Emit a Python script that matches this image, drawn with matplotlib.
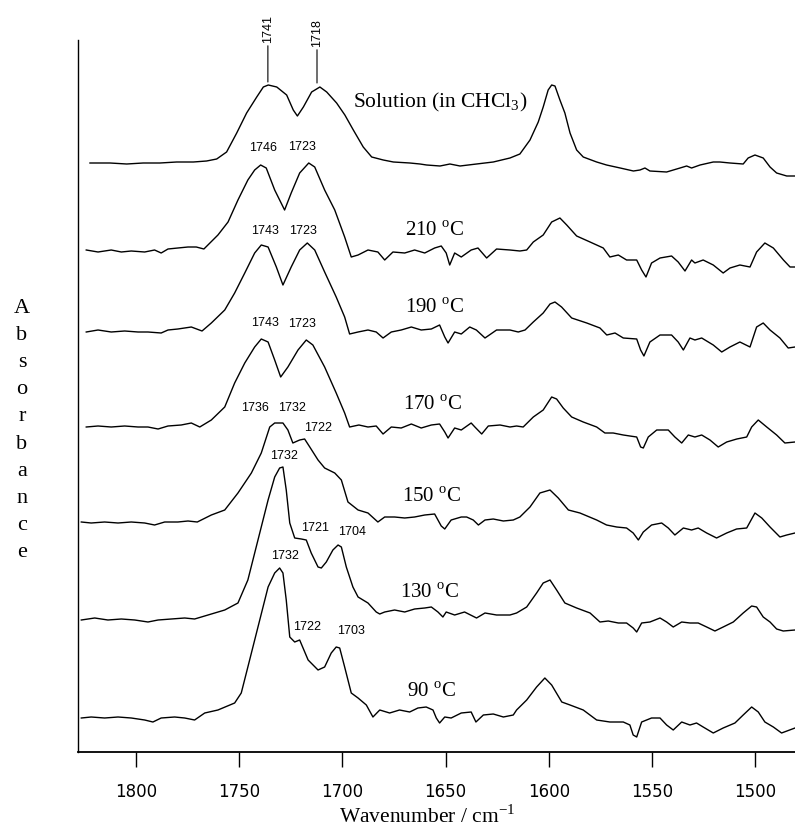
import matplotlib.pyplot as plt

plt.rcParams['font.family'] = ['Liberation Serif', 'DejaVu Serif']
plt.rcParams['mathtext.fontset'] = 'custom'
plt.rcParams['mathtext.rm'] = 'Liberation Serif'

# spectra: wavenumber (cm-1) and absorbance above each trace's own baseline
sol_wn = [1822.3, 1812.6, 1804.5, 1796.5, 1788.4, 1780.3, 1772.2, 1765.8, 1760.9, 1756.1,
          1751.2, 1746.4, 1741.5, 1738.3, 1735.9, 1731.8, 1727.0, 1723.8, 1721.8, 1718.9,
          1714.9, 1710.9, 1707.6, 1702.8, 1698.8, 1694.7, 1689.9, 1685.8, 1680.2, 1675.3,
          1667.3, 1662.4, 1659.2, 1652.7, 1647.9, 1643.0, 1635.0, 1626.9, 1618.8, 1614.0,
          1609.1, 1605.1, 1602.7, 1600.3, 1598.6, 1597.0, 1594.6, 1592.2, 1589.7, 1586.5,
          1583.3, 1576.8, 1572.0, 1565.4, 1559.0, 1555.8, 1553.4, 1551.0, 1542.9, 1536.4,
          1533.2, 1530.8, 1526.7, 1520.3, 1517.1, 1512.2, 1505.8, 1503.4, 1500.1, 1496.1,
          1492.8, 1489.6, 1484.7, 1480.7]
sol_abs = [0, 0, -0.01, 0, 0, 0.01, 0.01, 0.02, 0.04, 0.11,
           0.30, 0.50, 0.66, 0.76, 0.78, 0.76, 0.68, 0.53, 0.47, 0.56,
           0.71, 0.76, 0.71, 0.60, 0.48, 0.33, 0.16, 0.06, 0.03, 0.01,
           0, -0.01, -0.02, -0.03, -0.01, -0.03, -0.01, 0.01, 0.05, 0.09,
           0.23, 0.41, 0.56, 0.73, 0.78, 0.77, 0.63, 0.50, 0.30, 0.13,
           0.06, 0.01, -0.02, -0.05, -0.08, -0.07, -0.05, -0.08, -0.09, -0.05,
           -0.03, -0.05, -0.02, 0.01, 0.01, 0, -0.01, 0.05, 0.08, 0.05,
           -0.04, -0.10, -0.13, -0.13]

t210_wn = [1824.1, 1818.4, 1812.0, 1807.1, 1802.3, 1795.8, 1791.0, 1787.8, 1784.5, 1779.7,
           1774.8, 1770.8, 1767.1, 1760.3, 1755.4, 1750.6, 1745.8, 1742.5, 1739.6, 1736.9,
           1732.8, 1728.0, 1724.8, 1720.7, 1716.3, 1713.4, 1708.6, 1703.7, 1698.9, 1695.7,
           1692.4, 1687.6, 1682.8, 1679.5, 1675.5, 1669.8, 1665.0, 1660.1, 1655.3, 1652.1,
           1649.7, 1648.0, 1645.6, 1642.4, 1637.6, 1634.3, 1630.1, 1625.3, 1618.8, 1614.0,
           1610.7, 1607.5, 1602.7, 1598.6, 1594.6, 1591.3, 1586.5, 1580.0, 1573.6, 1570.4,
           1566.3, 1562.3, 1557.4, 1555.0, 1552.9, 1550.2, 1546.1, 1540.5, 1537.3, 1534.0,
           1530.8, 1529.2, 1525.2, 1520.3, 1515.5, 1512.2, 1507.4, 1502.5, 1499.3, 1495.3,
           1491.2, 1486.3, 1483.1, 1480.7]
t210_abs = [0, -0.02, 0, -0.02, -0.01, -0.02, 0, -0.03, 0.01, 0.02,
            0.03, 0.03, 0.01, 0.15, 0.28, 0.50, 0.70, 0.80, 0.85, 0.82,
            0.60, 0.40, 0.57, 0.77, 0.87, 0.83, 0.60, 0.40, 0.13, -0.07,
            -0.05, 0, -0.02, -0.10, -0.02, -0.03, 0, -0.03, 0.02, 0.04,
            -0.03, -0.15, -0.03, -0.07, 0, 0.02, -0.08, 0.01, 0, -0.01,
            0, 0.08, 0.15, 0.28, 0.32, 0.25, 0.14, 0.08, 0.02, -0.07,
            -0.05, -0.10, -0.10, -0.20, -0.27, -0.13, -0.08, -0.06, -0.12, -0.21,
            -0.10, -0.13, -0.10, -0.15, -0.23, -0.18, -0.15, -0.17, -0.02, 0.07,
            0.02, -0.10, -0.17, -0.17]

t190_wn = [1824.1, 1818.4, 1812.0, 1805.5, 1799.0, 1794.2, 1787.8, 1784.5, 1779.7, 1773.2,
           1768.0, 1763.5, 1757.0, 1752.2, 1747.3, 1742.5, 1739.3, 1736.0, 1732.0, 1728.8,
           1724.8, 1720.7, 1717.0, 1713.4, 1708.6, 1703.0, 1698.9, 1696.5, 1692.4, 1687.6,
           1683.6, 1680.3, 1676.3, 1671.5, 1666.6, 1661.8, 1656.9, 1652.9, 1650.4, 1648.8,
           1645.6, 1642.4, 1638.3, 1635.1, 1630.9, 1625.3, 1618.8, 1614.8, 1611.5, 1607.5,
           1602.7, 1599.4, 1597.0, 1593.8, 1588.9, 1581.6, 1575.2, 1571.9, 1567.9, 1563.9,
           1557.4, 1555.5, 1553.9, 1551.0, 1546.1, 1540.5, 1537.3, 1534.8, 1531.6, 1529.2,
           1525.9, 1520.3, 1516.2, 1512.2, 1507.4, 1502.5, 1499.3, 1496.1, 1492.8, 1488.0,
           1484.0, 1480.7]
t190_abs = [0, 0.02, 0, 0.01, 0, 0, -0.01, 0.02, 0.03, 0.05,
            0.01, 0.09, 0.22, 0.39, 0.59, 0.79, 0.87, 0.85, 0.65, 0.47,
            0.65, 0.82, 0.89, 0.82, 0.60, 0.35, 0.15, -0.02, 0, 0.02,
            0, -0.06, 0, 0.02, 0.05, 0.02, 0.03, 0.07, -0.05, -0.11,
            0, -0.02, 0.05, 0.02, -0.06, 0.02, 0.02, 0, 0.02, 0.10,
            0.19, 0.28, 0.30, 0.25, 0.14, 0.09, 0.04, -0.03, -0.01, -0.06,
            -0.07, -0.18, -0.24, -0.10, -0.03, -0.03, -0.10, -0.18, -0.06, -0.08,
            -0.06, -0.13, -0.20, -0.15, -0.10, -0.15, 0.05, 0.09, 0.02, -0.06,
            -0.16, -0.15]

t170_wn = [1824.1, 1818.4, 1812.0, 1805.5, 1799.0, 1794.2, 1789.3, 1784.5, 1778.1, 1773.2,
           1769.1, 1763.5, 1757.0, 1752.2, 1747.3, 1742.5, 1739.3, 1736.0, 1732.8, 1729.9,
           1726.4, 1721.5, 1717.5, 1714.3, 1708.6, 1703.0, 1698.9, 1696.5, 1692.0, 1687.6,
           1683.6, 1680.3, 1676.3, 1671.5, 1666.6, 1661.8, 1656.9, 1652.9, 1650.4, 1648.8,
           1645.6, 1642.4, 1637.6, 1635.8, 1632.5, 1629.3, 1623.6, 1618.8, 1615.6, 1612.4,
           1607.5, 1602.7, 1598.6, 1596.2, 1593.0, 1588.9, 1583.3, 1576.8, 1572.8, 1568.8,
           1563.9, 1560.7, 1557.4, 1555.5, 1554.2, 1551.8, 1547.7, 1542.1, 1538.9, 1535.6,
           1532.4, 1529.2, 1525.9, 1521.9, 1517.9, 1513.8, 1508.9, 1504.1, 1501.7, 1498.5,
           1494.4, 1489.6, 1485.6, 1480.7]
t170_abs = [0, 0.01, 0, 0.01, 0, 0, -0.02, 0.01, 0.02, 0.04,
            0, 0.07, 0.20, 0.44, 0.64, 0.80, 0.88, 0.85, 0.67, 0.50,
            0.60, 0.77, 0.87, 0.82, 0.60, 0.34, 0.14, 0, 0.02, 0,
            0.01, -0.07, 0, -0.01, 0.03, -0.01, 0.02, 0.03, -0.05, -0.11,
            -0.01, -0.03, 0.04, 0, -0.07, 0.01, 0.02, 0, 0.01, 0,
            0.10, 0.17, 0.30, 0.28, 0.19, 0.10, 0.05, 0, -0.06, -0.06,
            -0.08, -0.09, -0.10, -0.20, -0.21, -0.10, -0.03, -0.03, -0.10, -0.16,
            -0.08, -0.10, -0.08, -0.13, -0.20, -0.15, -0.12, -0.10, 0, 0.07,
            0, -0.08, -0.16, -0.15]

t150_wn = [1826.5, 1821.7, 1815.2, 1808.7, 1802.3, 1795.8, 1791.0, 1786.1, 1779.7, 1774.8,
           1770.3, 1763.5, 1757.0, 1750.6, 1744.1, 1739.3, 1735.2, 1732.8, 1728.8, 1726.4,
           1724.0, 1720.7, 1718.3, 1715.8, 1711.8, 1708.6, 1703.7, 1700.5, 1697.3, 1692.4,
           1687.6, 1682.8, 1679.5, 1674.7, 1669.8, 1665.0, 1660.1, 1655.3, 1652.1, 1650.4,
           1647.3, 1642.4, 1639.8, 1636.6, 1634.1, 1630.9, 1626.9, 1622.0, 1617.2, 1614.0,
           1609.1, 1604.3, 1599.4, 1595.4, 1590.5, 1584.9, 1576.8, 1572.0, 1567.1, 1562.3,
           1559.1, 1556.6, 1554.2, 1550.2, 1545.3, 1542.1, 1538.9, 1534.8, 1530.8, 1527.6,
           1523.5, 1518.7, 1513.8, 1509.0, 1504.1, 1500.1, 1496.8, 1492.8, 1488.0, 1484.7,
           1480.7]
t150_abs = [0, -0.01, 0, -0.01, 0, -0.01, -0.03, 0, 0, 0.01,
            0, 0.07, 0.12, 0.29, 0.49, 0.69, 0.95, 0.99, 0.99, 0.92,
            0.79, 0.82, 0.83, 0.75, 0.62, 0.54, 0.49, 0.42, 0.20, 0.12,
            0.09, 0, 0.05, 0.05, 0.04, 0.05, 0.07, 0.08, -0.04, -0.07,
            0.02, 0.05, 0.05, 0.02, -0.03, 0.02, 0.03, 0.01, 0.02, 0.05,
            0.15, 0.29, 0.32, 0.24, 0.12, 0.09, 0.02, -0.03, -0.05, -0.06,
            -0.11, -0.18, -0.10, -0.03, -0.01, -0.06, -0.13, -0.06, -0.08, -0.06,
            -0.11, -0.16, -0.11, -0.07, -0.06, 0.09, 0.04, -0.05, -0.15, -0.13,
            -0.11]

t130_wn = [1826.5, 1820.0, 1813.6, 1807.1, 1800.6, 1794.2, 1789.3, 1782.9, 1776.4, 1771.6,
           1765.1, 1757.0, 1750.6, 1745.8, 1740.9, 1736.0, 1732.8, 1730.4, 1728.8, 1727.2,
           1725.5, 1723.1, 1719.9, 1717.5, 1715.1, 1711.8, 1710.2, 1707.8, 1704.6, 1702.1,
           1700.5, 1698.1, 1694.9, 1692.4, 1687.6, 1683.6, 1681.9, 1679.5, 1674.7, 1669.8,
           1665.0, 1660.1, 1656.9, 1653.7, 1651.3, 1649.7, 1645.6, 1640.8, 1635.0, 1630.9,
           1625.3, 1618.8, 1615.6, 1610.7, 1605.9, 1602.7, 1599.4, 1596.2, 1592.2, 1586.5,
           1580.0, 1575.2, 1571.2, 1566.3, 1562.3, 1559.1, 1557.4, 1555.0, 1551.0, 1546.1,
           1542.9, 1539.7, 1535.6, 1531.6, 1527.6, 1523.5, 1519.5, 1515.5, 1510.6, 1505.8,
           1501.7, 1499.3, 1496.1, 1492.8, 1489.6, 1486.4, 1480.7]
t130_abs = [0, 0.02, 0, 0.01, 0, -0.02, 0, 0.01, 0.02, 0.01,
            0.05, 0.10, 0.17, 0.40, 0.80, 1.20, 1.43, 1.52, 1.53, 1.30,
            0.97, 0.82, 0.81, 0.80, 0.67, 0.53, 0.52, 0.58, 0.70, 0.75,
            0.73, 0.53, 0.33, 0.23, 0.17, 0.08, 0.06, 0.08, 0.10, 0.08,
            0.11, 0.12, 0.13, 0.08, 0.03, 0.08, 0.05, 0.08, 0.02, 0.07,
            0.05, 0.05, 0.07, 0.13, 0.27, 0.37, 0.40, 0.30, 0.17, 0.12,
            0.07, -0.02, -0.01, -0.03, -0.03, -0.08, -0.12, -0.03, -0.02, 0.02,
            -0.02, -0.07, -0.02, -0.03, -0.03, -0.07, -0.11, -0.07, -0.02, 0.07,
            0.14, 0.13, 0.03, -0.02, -0.09, -0.11, -0.10]

t90_wn = [1826.5, 1821.7, 1815.2, 1808.7, 1802.3, 1795.8, 1791.8, 1787.8, 1781.3, 1776.4,
          1771.6, 1766.7, 1760.3, 1752.2, 1749.0, 1745.8, 1740.9, 1736.0, 1732.8, 1730.4,
          1728.8, 1727.2, 1725.5, 1723.1, 1720.7, 1716.6, 1711.8, 1708.6, 1705.4, 1703.0,
          1701.3, 1698.9, 1695.7, 1692.4, 1688.4, 1685.2, 1681.9, 1677.1, 1672.3, 1667.4,
          1663.4, 1659.4, 1656.1, 1654.5, 1652.9, 1650.4, 1647.3, 1642.4, 1637.6, 1635.3,
          1631.7, 1626.9, 1622.0, 1617.2, 1615.6, 1610.7, 1605.9, 1601.9, 1598.6, 1593.7,
          1589.7, 1583.3, 1576.8, 1570.4, 1563.9, 1560.7, 1559.1, 1557.4, 1555.0, 1550.2,
          1546.1, 1542.9, 1539.7, 1535.6, 1531.6, 1528.4, 1525.2, 1520.3, 1515.5, 1509.8,
          1505.8, 1501.7, 1498.5, 1495.3, 1491.2, 1487.2, 1480.7]
t90_abs = [0, 0.01, 0, 0.01, 0, -0.02, -0.04, 0, 0.01, 0,
           -0.02, 0.05, 0.08, 0.15, 0.25, 0.51, 0.91, 1.31, 1.45, 1.50,
           1.45, 1.18, 0.81, 0.76, 0.78, 0.58, 0.48, 0.51, 0.65, 0.71,
           0.70, 0.51, 0.25, 0.20, 0.13, 0.01, 0.08, 0.05, 0.08, 0.06,
           0.10, 0.11, 0.08, 0, -0.05, 0.01, 0, 0.05, 0.06, -0.04,
           0.03, 0.04, 0.01, 0.03, 0.08, 0.18, 0.31, 0.40, 0.33, 0.16,
           0.13, 0.08, -0.02, -0.04, -0.04, -0.07, -0.17, -0.19, -0.04, 0,
           0, -0.07, -0.12, -0.04, -0.07, -0.05, -0.09, -0.15, -0.10, -0.05,
           0.03, 0.11, 0.06, -0.04, -0.09, -0.15, -0.10]

spectra = [(sol_wn, sol_abs), (t210_wn, t210_abs), (t190_wn, t190_abs), (t170_wn, t170_abs),
           (t150_wn, t150_abs), (t130_wn, t130_abs), (t90_wn, t90_abs)]
# vertical stacking offset of each trace
offsets = [5.89, 5.02, 4.20, 3.25, 2.30, 1.32, 0.34]

temps = [210, 190, 170, 150, 130, 90]
temp_label_pos = [(1669.7, 5.21), (1669.7, 4.44), (1670.5, 3.47), (1671.3, 2.55), (1672.1, 1.59), (1668.9, 0.60)]

# peak maxima labels: text, x, y
peak_labels = [
    ('1746', 1738.5, 6.04), ('1723', 1719.6, 6.05),
    ('1743', 1737.7, 5.21), ('1723', 1719.1, 5.21),
    ('1743', 1737.7, 4.29), ('1723', 1719.6, 4.28),
    ('1736', 1742.5, 3.44), ('1732', 1724.3, 3.44), ('1722', 1711.8, 3.24),
    ('1732', 1728.3, 2.96), ('1721', 1713.4, 2.24), ('1704', 1695.4, 2.20),
    ('1732', 1728.0, 1.96), ('1722', 1717.0, 1.25), ('1703', 1696.0, 1.21),
]
# solution band positions marked with a leader line
solution_bands = [('1741', 1736.1, 6.70), ('1718', 1712.3, 6.69)]
band_text_y = [7.09, 7.05]

wn_ticks = [1800, 1750, 1700, 1650, 1600, 1550, 1500]

fig = plt.figure(figsize=(7.95, 8.38), dpi=100)
ax = fig.add_axes([78 / 795, 86 / 838, 717 / 795, 712 / 838])

for (wn, ab), off in zip(spectra, offsets):
    assert len(wn) == len(ab)
    ax.plot(wn, [a + off for a in ab], color='black', lw=1.0)

ax.set_xlim(1828.1, 1480.7)
ax.set_ylim(0, 7.12)
ax.spines['top'].set_visible(False)
ax.spines['right'].set_visible(False)
ax.spines['left'].set_linewidth(1.0)
ax.spines['bottom'].set_linewidth(1.3)
ax.set_yticks([])
ax.set_xticks(wn_ticks)
ax.tick_params(axis='x', direction='out', length=11, width=1, pad=11)
for lbl in ax.get_xticklabels():
    lbl.set_fontfamily('DejaVu Sans')
    lbl.set_fontsize(12)
ax.set_xlabel(r'Wavenumber / cm$^{\mathrm{-1}}$', fontsize=15.5)
ax.xaxis.set_label_coords(0.487, -0.075)

for t, (x, y) in zip(temps, temp_label_pos):
    ax.text(x, y, r'%d $^{\mathrm{o}}$C' % t, fontsize=15, ha='left', va='center')
ax.text(1694.9, 6.50, r'Solution (in CHCl$_{3}$)', fontsize=15.5, ha='left', va='center')

for s, x, y in peak_labels:
    ax.text(x, y, s, fontsize=9, family='Liberation Sans', ha='center', va='center')

for (s, x, y), ty in zip(solution_bands, band_text_y):
    ax.annotate(s, xy=(x, y), xytext=(x, ty), rotation=90, fontsize=9, family='Liberation Sans',
                ha='center', va='bottom', annotation_clip=False,
                arrowprops=dict(arrowstyle='-', lw=0.8, shrinkA=0, shrinkB=0))

for i, ch in enumerate('Absorbance'):
    fig.text(22 / 795, 1 - (308 + 27.2 * i) / 838, ch, fontsize=16, ha='center', va='center')

fig.savefig('out.png', dpi=100)
